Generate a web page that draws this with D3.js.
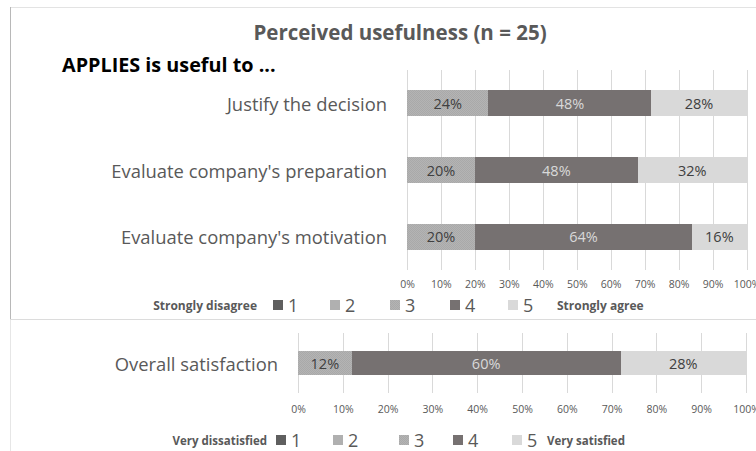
<!DOCTYPE html>
<html><head><meta charset="utf-8">
<script src="https://cdn.jsdelivr.net/npm/d3@7"></script>
<style>
html,body{margin:0;padding:0;background:#fff;}
svg{display:block;font-family:"Open Sans",sans-serif;}
</style></head>
<body>
<svg id="chart" width="756" height="451"></svg>
<script>
// ---- data ----
const usefulCategories = ["Justify the decision", "Evaluate company's preparation", "Evaluate company's motivation"];
const useful1 = [0, 0, 0];
const useful2 = [0, 0, 0];
const useful3 = [24, 20, 20];
const useful4 = [48, 48, 64];
const useful5 = [28, 32, 16];

const overallCategories = ["Overall satisfaction"];
const overall1 = [0];
const overall2 = [0];
const overall3 = [12];
const overall4 = [60];
const overall5 = [28];

const seriesKeys = ["1", "2", "3", "4", "5"];
const tickValues = [0, 10, 20, 30, 40, 50, 60, 70, 80, 90, 100];
const topLegendLeft = "Strongly disagree", topLegendRight = "Strongly agree";
const botLegendLeft = "Very dissatisfied", botLegendRight = "Very satisfied";
const chartTitle = "Perceived usefulness (n = 25)";
const subTitle = "APPLIES is useful to ...";

// ---- styles ----
const colors = {"1": "#595959", "2": "#a6a6a6", "3": "url(#hatch)", "4": "#767171", "5": "#d9d9d9"};
const legendColors = {"1": "#5f5f5f", "2": "#b0b0b0", "3": "url(#hatch)", "4": "#767171", "5": "#d9d9d9"};
const labelColors = {"1": "#fff", "2": "#404040", "3": "#404040", "4": "#d9d9d9", "5": "#404040"};

const svg = d3.select("#chart");
const defs = svg.append("defs");
const pat = defs.append("pattern").attr("id", "hatch").attr("patternUnits", "userSpaceOnUse")
  .attr("width", 2).attr("height", 2);
pat.append("rect").attr("width", 2).attr("height", 2).attr("fill", "#b4b4b4");
pat.append("rect").attr("width", 1).attr("height", 1).attr("fill", "#a9a9a9");
pat.append("rect").attr("x", 1).attr("y", 1).attr("width", 1).attr("height", 1).attr("fill", "#a9a9a9");

// panel borders
svg.append("line").attr("x1", 10).attr("x2", 756).attr("y1", 7.5).attr("y2", 7.5).attr("stroke", "#e3e3e3");
svg.append("line").attr("x1", 10.5).attr("x2", 10.5).attr("y1", 7).attr("y2", 319).attr("stroke", "#b8b8b8");
svg.append("line").attr("x1", 10).attr("x2", 756).attr("y1", 319.5).attr("y2", 319.5).attr("stroke", "#dcdcdc");
svg.append("line").attr("x1", 10.5).attr("x2", 10.5).attr("y1", 320).attr("y2", 451).attr("stroke", "#e6e6e6");

svg.append("text").attr("x", 400).attr("y", 32).attr("text-anchor", "middle").attr("dominant-baseline", "central")
  .attr("font-weight", "bold").attr("font-size", 20.5).attr("fill", "#595959").text(chartTitle);
svg.append("text").attr("x", 62).attr("y", 64).attr("dominant-baseline", "central")
  .attr("font-weight", "bold").attr("font-size", 19.8).attr("fill", "#000").text(subTitle);

function drawChart(cfg) {
  const rows = cfg.categories.map((c, i) => {
    const r = {cat: c};
    seriesKeys.forEach((k, j) => r[k] = cfg.series[j][i]);
    return r;
  });
  const x = d3.scaleLinear().domain([0, 100]).range([cfg.x0, cfg.x1]);
  const y = d3.scaleBand().domain(cfg.categories).range([cfg.yTop, cfg.yBot]).paddingInner(cfg.padIn).paddingOuter(cfg.padOut);
  const g = svg.append("g");

  // gridlines
  g.append("g").attr("transform", `translate(0,${cfg.gridBot})`)
    .call(d3.axisBottom(x).tickValues(tickValues).tickSize(-(cfg.gridBot - cfg.gridTop)).tickFormat(""))
    .call(a => a.select(".domain").remove())
    .call(a => a.selectAll("line").attr("stroke", "#d9d9d9").attr("shape-rendering", "crispEdges"));

  // tick labels
  g.append("g").attr("transform", `translate(0,${cfg.tickY})`)
    .call(d3.axisBottom(x).tickValues(tickValues).tickSize(0).tickPadding(0).tickFormat(d => d + "%"))
    .call(a => a.select(".domain").remove())
    .call(a => a.selectAll("text").attr("font-family", "Open Sans").attr("font-size", 10.5).attr("fill", "#595959").attr("dy", "0.35em"));

  const stacked = d3.stack().keys(seriesKeys)(rows);
  const layers = g.selectAll(".layer").data(stacked).join("g").attr("fill", d => colors[d.key]);
  layers.selectAll("rect").data(d => d.map(p => ({p, key: d.key}))).join("rect")
    .attr("x", d => x(d.p[0])).attr("width", d => x(d.p[1]) - x(d.p[0]))
    .attr("y", d => y(d.p.data.cat)).attr("height", y.bandwidth())
    .attr("shape-rendering", "crispEdges");
  layers.selectAll("text").data(d => d.map(p => ({p, key: d.key})).filter(d => d.p[1] - d.p[0] > 0)).join("text")
    .attr("x", d => (x(d.p[0]) + x(d.p[1])) / 2).attr("y", d => y(d.p.data.cat) + y.bandwidth() / 2)
    .attr("text-anchor", "middle").attr("dominant-baseline", "central")
    .attr("font-size", 14.5).attr("fill", d => labelColors[d.key])
    .text(d => (d.p[1] - d.p[0]) + "%");

  // category labels
  g.selectAll(".cat").data(cfg.categories).join("text")
    .attr("x", cfg.x0 - 20).attr("y", d => y(d) + y.bandwidth() / 2)
    .attr("text-anchor", "end").attr("dominant-baseline", "central")
    .attr("font-size", cfg.catSize).attr("fill", "#595959").text(d => d);

  // legend
  const lg = g.append("g");
  lg.append("text").attr("x", cfg.legendSquares[0] - cfg.leftGap).attr("y", cfg.legendY).attr("text-anchor", "end")
    .attr("dominant-baseline", "central").attr("font-weight", "bold").attr("font-size", cfg.legendTextSize).attr("fill", "#595959").text(cfg.leftText);
  seriesKeys.forEach((k, i) => {
    const sx = cfg.legendSquares[i];
    lg.append("rect").attr("x", sx).attr("y", cfg.legendY - 5).attr("width", 10).attr("height", 10).attr("fill", legendColors[k]);
    lg.append("text").attr("x", sx + 15).attr("y", cfg.legendY).attr("dominant-baseline", "central")
      .attr("font-size", 18).attr("fill", "#595959").text(k);
  });
  lg.append("text").attr("x", cfg.legendSquares[4] + cfg.rightOffset).attr("y", cfg.legendY)
    .attr("dominant-baseline", "central").attr("font-weight", "bold").attr("font-size", cfg.legendTextSize).attr("fill", "#595959").text(cfg.rightText);
}

drawChart({
  categories: usefulCategories,
  series: [useful1, useful2, useful3, useful4, useful5],
  x0: 407, x1: 746.5, yTop: 70, yBot: 270, padIn: 0.612, padOut: 0.3,
  gridTop: 70, gridBot: 270, tickY: 284, catSize: 18.4,
  legendY: 305, legendSquares: [273, 330, 390, 450, 508], leftText: topLegendLeft, rightText: topLegendRight,
  rightOffset: 49, leftGap: 16, legendTextSize: 12
});

drawChart({
  categories: overallCategories,
  series: [overall1, overall2, overall3, overall4, overall5],
  x0: 298, x1: 746, yTop: 333, yBot: 393, padIn: 0, padOut: 0.75,
  gridTop: 333, gridBot: 393, tickY: 409, catSize: 18.4,
  legendY: 440, legendSquares: [276, 333, 399, 453, 512], leftText: botLegendLeft, rightText: botLegendRight,
  rightOffset: 35, leftGap: 9, legendTextSize: 11.5
});
</script>
</body></html>
